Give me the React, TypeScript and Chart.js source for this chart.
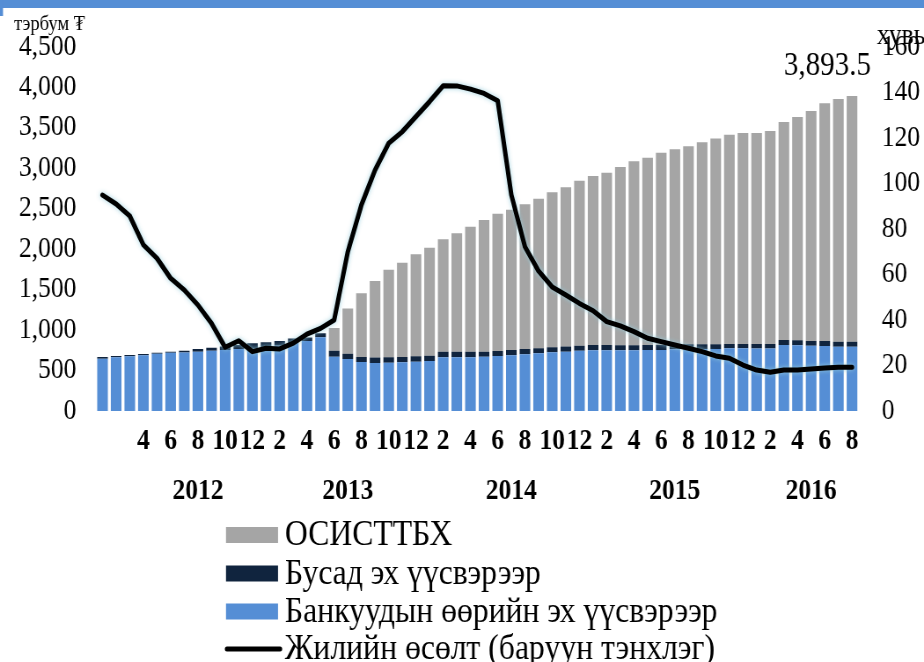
import React, { useEffect, useRef } from 'react';
import { Chart, registerables } from 'chart.js';

Chart.register(...registerables);

// ---------- data ----------
const categories = [
  '2012-01','2012-02','2012-03','2012-04','2012-05','2012-06','2012-07','2012-08','2012-09','2012-10','2012-11','2012-12',
  '2013-01','2013-02','2013-03','2013-04','2013-05','2013-06','2013-07','2013-08','2013-09','2013-10','2013-11','2013-12',
  '2014-01','2014-02','2014-03','2014-04','2014-05','2014-06','2014-07','2014-08','2014-09','2014-10','2014-11','2014-12',
  '2015-01','2015-02','2015-03','2015-04','2015-05','2015-06','2015-07','2015-08','2015-09','2015-10','2015-11','2015-12',
  '2016-01','2016-02','2016-03','2016-04','2016-05','2016-06','2016-07','2016-08',
];
const yearLabels = ['2012', '2013', '2014', '2015', '2016'];

// Банкуудын өөрийн эх үүсвэрээр (тэрбум ₮)
const bankFunds = [
  645, 663, 678, 688, 707, 719, 723, 734, 744, 754,
  765, 770, 790, 808, 840, 865, 911, 672, 643, 606,
  592, 598, 602, 610, 618, 663, 663, 663, 672, 680,
  688, 701, 713, 727, 734, 746, 752, 752, 750, 750,
  754, 754, 762, 764, 766, 766, 775, 775, 773, 773,
  816, 812, 808, 804, 795, 795,
];
// Бусад эх үүсвэрээр (тэрбум ₮)
const otherFunds = [
  23, 17, 14, 17, 12, 12, 21, 33, 39, 43,
  50, 67, 59, 57, 55, 45, 51, 74, 66, 62,
  68, 65, 66, 66, 66, 71, 71, 71, 62, 62,
  66, 66, 64, 62, 63, 62, 64, 64, 64, 64,
  62, 62, 58, 60, 58, 60, 53, 53, 55, 55,
  62, 62, 57, 61, 62, 62,
];
// ОСИСТТБХ (тэрбум ₮)
const osisFunds = [
  0, 0, 0, 0, 0, 0, 0, 0, 0, 0,
  0, 0, 0, 0, 0, 0, 0, 279, 559, 787,
  947, 1084, 1166, 1261, 1335, 1388, 1463, 1545, 1627, 1698,
  1735, 1788, 1848, 1915, 1969, 2039, 2089, 2130, 2203, 2273,
  2316, 2378, 2415, 2448, 2497, 2544, 2588, 2609, 2609, 2634,
  2695, 2761, 2844, 2939, 3000, 3036.5,
];
// Жилийн өсөлт (%), right axis
const annualGrowth = [
  94.9, 91.0, 85.7, 73.0, 67.1, 58.3, 53.2, 46.6, 38.5, 28.0,
  30.9, 26.1, 27.6, 27.3, 29.8, 33.8, 36.3, 40.0, 70.0, 90.6,
  105.9, 117.7, 122.8, 129.4, 136.0, 143.0, 142.9, 141.5, 139.6, 136.4,
  95.0, 72.2, 61.5, 54.5, 51.0, 47.3, 44.1, 39.3, 37.4, 34.9,
  32.0, 30.5, 29.0, 27.6, 26.1, 24.2, 23.2, 20.2, 18.0, 17.0,
  18.0, 18.0, 18.5, 18.9, 19.2, 19.2,
];

const seriesNames = {
  osis: 'ОСИСТТБХ',
  other: 'Бусад эх үүсвэрээр',
  bank: 'Банкуудын өөрийн эх үүсвэрээр',
  growth: 'Жилийн өсөлт (баруун тэнхлэг)',
};
const leftUnit = 'тэрбум ₮';
const rightUnit = 'хувь';

// ---------- styling / layout ----------
const S = 0.88; // horizontal condensation of the reference image
const W = 924 / S;
const H = 662;
const X = (v: number) => v / S;
const FONT = "'Liberation Serif', 'Times New Roman', serif";
const COLORS = { osis: '#A5A5A5', other: '#10243E', bank: '#558ED5', growth: '#000000', band: '#558ED5' };

const monthOf = (i: number) => parseInt(categories[i].slice(5), 10);
const showTick = (i: number) => i >= 3 && monthOf(i) % 2 === 0;

export default function App() {
  const ref = useRef<HTMLCanvasElement>(null);

  useEffect(() => {
    const canvas = ref.current;
    if (!canvas) return;

    const glow = {
      id: 'glow',
      beforeDatasetDraw(chart: any, args: any) {
        if (chart.data.datasets[args.index].type === 'line') {
          const ctx = chart.ctx;
          ctx.save();
          ctx.shadowColor = 'rgba(150, 205, 220, 0.9)';
          ctx.shadowBlur = 5;
        }
      },
      afterDatasetDraw(chart: any, args: any) {
        if (chart.data.datasets[args.index].type === 'line') chart.ctx.restore();
      },
    };

    const decor = {
      id: 'decor',
      beforeDraw(chart: any) {
        const ctx = chart.ctx;
        ctx.save();
        ctx.fillStyle = '#ffffff';
        ctx.fillRect(0, 0, chart.width, chart.height);
        ctx.fillStyle = COLORS.band;
        ctx.fillRect(0, 0, chart.width, 8);
        ctx.fillRect(0, 0, X(3), 16);
        ctx.restore();
      },
      afterDraw(chart: any) {
        const ctx = chart.ctx;
        const xs = chart.scales.x;
        const ys = chart.scales.y;
        ctx.save();
        ctx.fillStyle = '#000';

        // year labels
        ctx.font = `bold 29px ${FONT}`;
        ctx.textAlign = 'center';
        ctx.textBaseline = 'middle';
        yearLabels.forEach((yr) => {
          const idx: number[] = [];
          categories.forEach((c, i) => { if (c.startsWith(yr) && showTick(i)) idx.push(i); });
          if (!idx.length) return;
          const mean = idx.reduce((a, b) => a + b, 0) / idx.length;
          ctx.fillText(yr, xs.getPixelForValue(mean), 492);
        });

        // unit labels
        ctx.textAlign = 'left';
        ctx.textBaseline = 'alphabetic';
        ctx.font = `21px ${FONT}`;
        ctx.fillText(leftUnit, X(14), 30);
        ctx.font = `29px ${FONT}`;
        ctx.fillText(rightUnit, X(877), 44);

        // last value label
        const last = categories.length - 1;
        const total = bankFunds[last] + otherFunds[last] + osisFunds[last];
        ctx.font = `33px ${FONT}`;
        ctx.textAlign = 'right';
        ctx.fillText(
          total.toLocaleString('en-US', { minimumFractionDigits: 1, maximumFractionDigits: 1 }),
          xs.getPixelForValue(last) + X(19),
          ys.getPixelForValue(total) - 21
        );

        // legend
        const items = [
          { label: seriesNames.osis, color: COLORS.osis, line: false },
          { label: seriesNames.other, color: COLORS.other, line: false },
          { label: seriesNames.bank, color: COLORS.bank, line: false },
          { label: seriesNames.growth, color: COLORS.growth, line: true },
        ];
        const rowY = [535, 573.5, 611.5, 649];
        ctx.font = `36px ${FONT}`;
        ctx.textAlign = 'left';
        ctx.textBaseline = 'middle';
        items.forEach((it, k) => {
          const cy = rowY[k];
          if (it.line) {
            ctx.strokeStyle = it.color;
            ctx.lineWidth = 5;
            ctx.lineCap = 'round';
            ctx.beginPath();
            ctx.moveTo(X(227), cy);
            ctx.lineTo(X(280), cy);
            ctx.stroke();
          } else {
            ctx.fillStyle = it.color;
            ctx.fillRect(X(226), cy - 8, X(52), 16);
          }
          ctx.fillStyle = '#000';
          ctx.fillText(it.label, X(285), cy + 1);
        });
        ctx.restore();
      },
    };

    const barCommon = { barPercentage: 0.78, categoryPercentage: 1, borderWidth: 0, yAxisID: 'y', order: 1 };

    const chart = new Chart(canvas, {
      type: 'bar',
      data: {
        labels: categories,
        datasets: [
          { ...barCommon, type: 'bar', label: seriesNames.bank, data: bankFunds, backgroundColor: COLORS.bank },
          { ...barCommon, type: 'bar', label: seriesNames.other, data: otherFunds, backgroundColor: COLORS.other },
          { ...barCommon, type: 'bar', label: seriesNames.osis, data: osisFunds, backgroundColor: COLORS.osis },
          {
            type: 'line', label: seriesNames.growth, data: annualGrowth, yAxisID: 'y1', order: 0,
            borderColor: COLORS.growth, borderWidth: 5, pointRadius: 0, tension: 0,
            borderJoinStyle: 'round', borderCapStyle: 'round', fill: false,
          } as any,
        ],
      },
      options: {
        responsive: false,
        animation: false,
        layout: { padding: { top: 47, left: 0, right: 0, bottom: 0 } },
        plugins: { legend: { display: false }, tooltip: { enabled: false } },
        scales: {
          x: {
            stacked: true,
            grid: { display: false, drawTicks: false },
            border: { display: false },
            ticks: {
              autoSkip: false, maxRotation: 0, minRotation: 0, padding: 13, color: '#000',
              font: { family: FONT, size: 29, weight: 'bold' },
              callback: (_v: any, i: number) => (showTick(i) ? String(monthOf(i)) : ''),
            },
            afterFit: (s: any) => { s.height = H - 411; },
          },
          y: {
            stacked: true, position: 'left', min: 0, max: 4500,
            grid: { display: false, drawTicks: false },
            border: { display: false },
            ticks: {
              stepSize: 500, padding: 22, color: '#000',
              font: { family: FONT, size: 29 },
              callback: (v: any) => Number(v).toLocaleString('en-US'),
            },
            afterFit: (s: any) => { s.width = X(95.7); },
          },
          y1: {
            position: 'right', min: 0, max: 160,
            grid: { display: false, drawTicks: false },
            border: { display: false },
            ticks: { stepSize: 20, padding: 26, color: '#000', font: { family: FONT, size: 29 } },
            afterFit: (s: any) => { s.width = W - X(858.8); },
          },
        },
      } as any,
      plugins: [glow, decor],
    });
    return () => chart.destroy();
  }, []);

  return (
    <div style={{ position: 'fixed', left: 0, top: 0, width: 924, height: 662, overflow: 'hidden', background: '#fff' }}>
      <canvas
        ref={ref}
        width={W}
        height={H}
        style={{ display: 'block', transform: `scaleX(${S})`, transformOrigin: '0 0' }}
      />
    </div>
  );
}
